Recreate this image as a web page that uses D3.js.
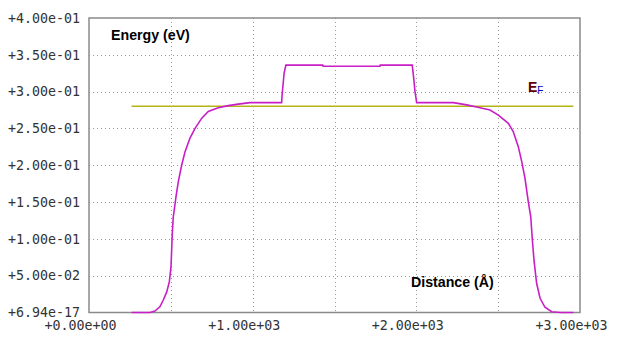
<!DOCTYPE html>
<html>
<head>
<meta charset="utf-8">
<script src="https://cdn.jsdelivr.net/npm/d3@7"></script>
<style>
  html, body { margin: 0; padding: 0; background: #fff; }
  svg { display: block; }
  .tick-label { font-family: "DejaVu Sans Mono", monospace; font-size: 13.3px; fill: #333; }
  .title { font-family: "Liberation Sans", Arial, sans-serif; font-weight: bold; font-size: 14.2px; fill: #000; }
</style>
</head>
<body>
<div id="chart"></div>
<script>
// Band profile: distance (A) vs energy (eV)
var distance = [260, 373, 403, 434, 454, 475, 491, 501, 505, 509, 515, 525, 532, 546, 566, 587, 617, 648, 689, 729, 790, 851, 912, 984,
    1177, 1180, 1186, 1192, 1203, 1428, 1430, 1778, 1780, 1975, 1984, 1992, 2002,
    2226, 2308, 2389, 2450, 2501, 2562, 2592, 2623, 2644, 2664, 2684, 2699, 2709, 2719, 2735, 2756, 2786, 2827, 2880, 2960];
var energy = [0, 0, 0.002, 0.008, 0.017, 0.028, 0.042, 0.062, 0.085, 0.108, 0.13, 0.146, 0.158, 0.178, 0.2, 0.2185, 0.237, 0.25, 0.264, 0.273, 0.278, 0.281, 0.283, 0.285,
    0.285, 0.296, 0.31, 0.325, 0.336, 0.336, 0.3345, 0.3345, 0.336, 0.336, 0.318, 0.300, 0.285,
    0.285, 0.282, 0.278, 0.275, 0.268, 0.257, 0.2457, 0.2253, 0.205, 0.1823, 0.1505, 0.13, 0.0985, 0.0707, 0.0397, 0.0193, 0.0071, 0.001, 0, 0];

// Fermi level
var fermiEnergy = 0.28;
var fermiRange = [260, 2960];

var xTickValues = [0, 1000, 2000, 3000];
var xTickLabels = ["+0.00e+00", "+1.00e+03", "+2.00e+03", "+3.00e+03"];
var xGridValues = [500, 1000, 1500, 2000, 2500];
var yTickValues = [0, 0.05, 0.10, 0.15, 0.20, 0.25, 0.30, 0.35, 0.40];
var yTickLabels = ["+6.94e-17", "+5.00e-02", "+1.00e-01", "+1.50e-01", "+2.00e-01",
    "+2.50e-01", "+3.00e-01", "+3.50e-01", "+4.00e-01"];

var width = 618, height = 343;
var margin = {top: 18, right: 38, bottom: 30.5, left: 89};

var svg = d3.select("#chart").append("svg")
    .attr("width", width)
    .attr("height", height);

var xScale = d3.scaleLinear().domain([0, 3000]).range([margin.left, width - margin.right]);
var yScale = d3.scaleLinear().domain([0, 0.4]).range([height - margin.bottom, margin.top]);

// dotted grid
var grid = svg.append("g").attr("class", "grid");
grid.selectAll(".vgrid").data(xGridValues).enter().append("line")
    .attr("x1", function (d) { return Math.round(xScale(d)) + 0.5; })
    .attr("x2", function (d) { return Math.round(xScale(d)) + 0.5; })
    .attr("y1", yScale(0.4))
    .attr("y2", yScale(0))
    .attr("stroke", "#999")
    .attr("stroke-dasharray", "1,3");
grid.selectAll(".hgrid").data(yTickValues.slice(1, -1)).enter().append("line")
    .attr("x1", xScale(0))
    .attr("x2", xScale(3000))
    .attr("y1", function (d) { return Math.round(yScale(d)) + 0.5; })
    .attr("y2", function (d) { return Math.round(yScale(d)) + 0.5; })
    .attr("stroke", "#999")
    .attr("stroke-dasharray", "1,3");

// frame
svg.append("rect")
    .attr("x", xScale(0))
    .attr("y", yScale(0.4))
    .attr("width", xScale(3000) - xScale(0))
    .attr("height", yScale(0) - yScale(0.4))
    .attr("fill", "none")
    .attr("stroke", "#8a8a8a")
    .attr("stroke-width", 1.5);

// axes (labels only)
var yAxis = d3.axisLeft(yScale)
    .tickValues(yTickValues)
    .tickSize(0)
    .tickPadding(9)
    .tickFormat(function (d, i) { return yTickLabels[i]; });
var gy = svg.append("g")
    .attr("transform", "translate(" + xScale(0) + ",0)")
    .call(yAxis);
gy.select(".domain").remove();
gy.selectAll("text").attr("class", "tick-label").attr("font-family", null).attr("font-size", null).attr("fill", null);

var xAxis = d3.axisBottom(xScale)
    .tickValues(xTickValues)
    .tickSize(0)
    .tickPadding(8)
    .tickFormat(function (d, i) { return xTickLabels[i]; });
var gx = svg.append("g")
    .attr("transform", "translate(0," + yScale(0) + ")")
    .call(xAxis);
gx.select(".domain").remove();
gx.selectAll("text").attr("class", "tick-label").attr("font-family", null).attr("font-size", null).attr("fill", null)
    .attr("dx", -9);

// Fermi level line
svg.append("line")
    .attr("x1", xScale(fermiRange[0]))
    .attr("x2", xScale(fermiRange[1]))
    .attr("y1", yScale(fermiEnergy))
    .attr("y2", yScale(fermiEnergy))
    .attr("stroke", "#b4b414")
    .attr("stroke-width", 1.5);

// energy curve
var line = d3.line()
    .x(function (d, i) { return xScale(distance[i]); })
    .y(function (d) { return yScale(d); });
svg.append("path")
    .datum(energy)
    .attr("d", line)
    .attr("fill", "none")
    .attr("stroke", "#c81ec8")
    .attr("stroke-width", 1.6);

// labels
svg.append("text").attr("class", "title").attr("x", 111).attr("y", 40).text("Energy (eV)");
svg.append("text").attr("class", "title").attr("x", 411).attr("y", 287).text("Distance (\u00C5)");
var ef = svg.append("text")
    .attr("x", 528).attr("y", 92)
    .attr("font-family", "Liberation Sans, Arial, sans-serif")
    .attr("font-weight", "bold")
    .attr("font-size", 14);
ef.append("tspan").attr("fill", "#600000").text("E");
ef.append("tspan").attr("fill", "#0000c0").attr("font-weight", "normal").attr("font-size", 10).attr("dy", 2).text("F");
</script>
</body>
</html>
